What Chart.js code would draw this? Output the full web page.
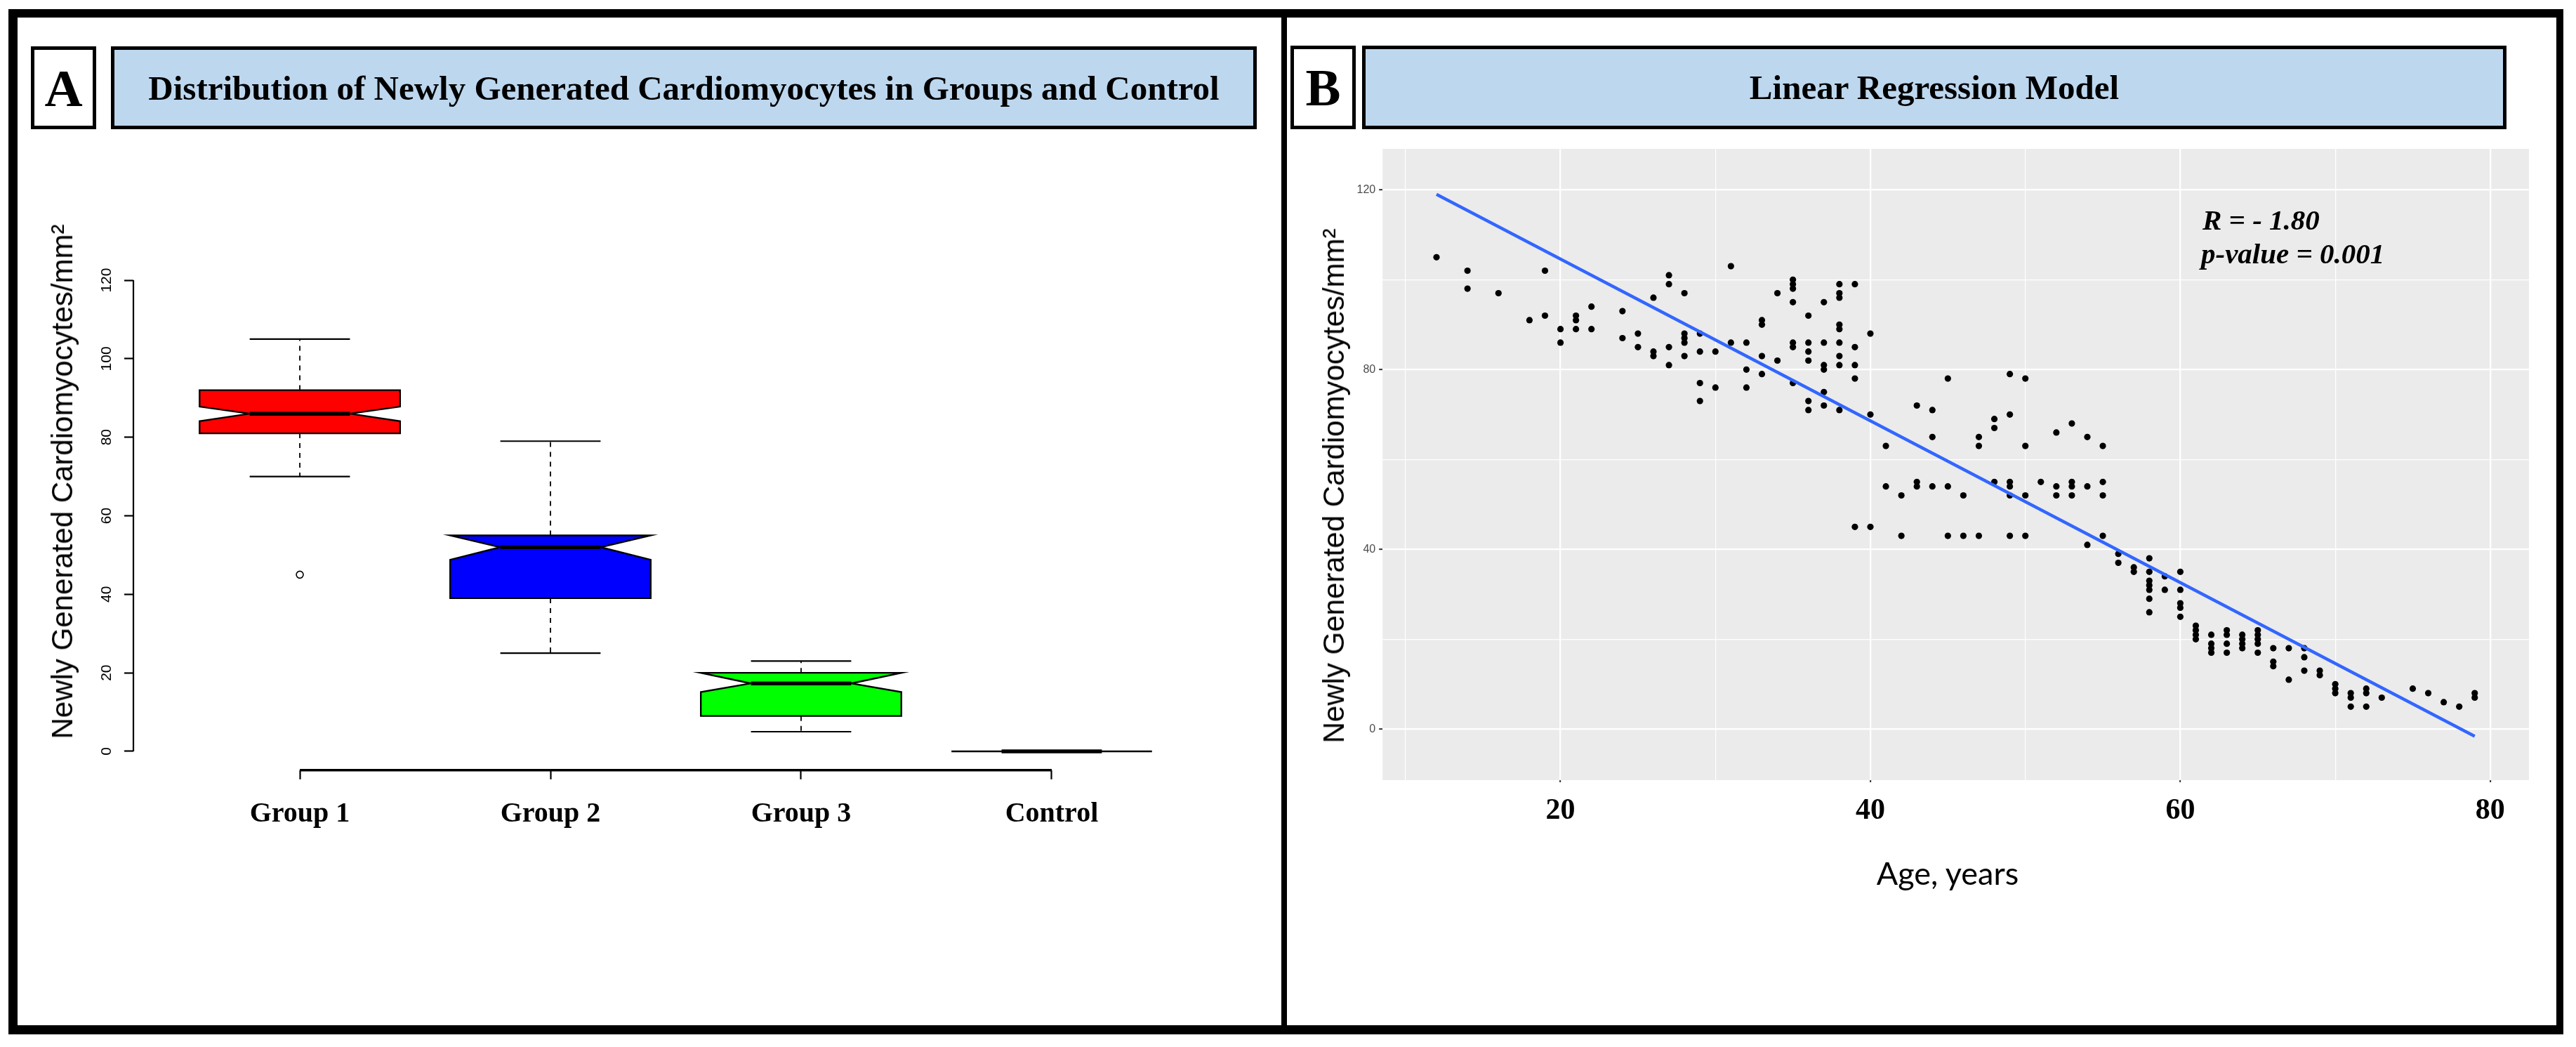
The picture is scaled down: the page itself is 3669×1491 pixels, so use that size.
<!DOCTYPE html>
<html>
<head>
<meta charset="utf-8">
<script src="https://cdn.jsdelivr.net/npm/chart.js@4.4.0/dist/chart.umd.min.js"></script>
<style>
html,body{margin:0;padding:0;background:#fff;}
#stage{position:relative;width:3669px;height:1491px;overflow:hidden;background:#fff;}
canvas{position:absolute;left:0;top:0;}
.box{position:absolute;box-sizing:border-box;border:5px solid #000;display:flex;align-items:center;justify-content:center;font-family:"Liberation Serif","Times New Roman",serif;font-weight:bold;line-height:1;white-space:nowrap;color:#000;z-index:5;}
.hdr{background:#BDD7EE;font-size:49px;}
.letter{background:#fff;font-size:75px;}
.rot{position:absolute;transform:translate(-50%,-50%) rotate(-90deg);font-family:"Liberation Sans",Arial,sans-serif;font-size:42px;line-height:1;white-space:nowrap;color:#000;z-index:5;}
.ann{position:absolute;font-family:"Liberation Serif","Times New Roman",serif;font-weight:bold;font-style:italic;font-size:41px;line-height:1;white-space:nowrap;color:#000;z-index:5;}
.xt{position:absolute;transform:translate(-50%,-50%);font-family:Lato,"Open Sans",sans-serif;font-size:45px;line-height:1;white-space:nowrap;color:#000;z-index:5;}
#frame{position:absolute;left:12px;top:13px;width:3639px;height:1460px;box-sizing:border-box;border-style:solid;border-color:#000;border-width:12px 10px 13px 13px;z-index:6;}
#divider{position:absolute;left:1825px;top:13px;width:8px;height:1460px;background:#000;z-index:6;}
</style>
</head>
<body>
<div id="stage">
  <canvas id="cA" width="3669" height="1491"></canvas>
  <canvas id="cB" width="3669" height="1491"></canvas>

  <div class="box letter" style="left:44px;top:66px;width:93px;height:118px;">A</div>
  <div class="box hdr" style="left:158px;top:66px;width:1632px;height:118px;">Distribution of Newly Generated Cardiomyocytes in Groups and Control</div>
  <div class="box letter" style="left:1838px;top:65px;width:93px;height:119px;">B</div>
  <div class="box hdr" style="left:1940px;top:65px;width:1630px;height:119px;">Linear Regression Model</div>

  <div class="rot" style="left:88.5px;top:686px;">Newly Generated Cardiomyocytes/mm²</div>
  <div class="rot" style="left:1900px;top:692px;">Newly Generated Cardiomyocytes/mm²</div>
  <div class="xt" style="left:2774px;top:1243px;">Age, years</div>

  <div class="ann" style="left:3137px;top:292.7px;">R = - 1.80</div>
  <div class="ann" style="left:3135px;top:340.7px;">p-value = 0.001</div>

  <div id="frame"></div>
  <div id="divider"></div>
</div>
<script>
// ---------- Panel A data (box plot) ----------
const groupLabels = ['Group 1', 'Group 2', 'Group 3', 'Control'];
const boxColors   = ['#FF0000', '#0000FF', '#00FF00', '#FFFFFF'];
const whiskerLow  = [70, 25, 5, 0];
const boxQ1       = [81, 39, 9, 0];
const notchLow    = [84.1, 48.8, 15.1, 0];
const boxMedian   = [86, 52, 17.3, 0];
const notchHigh   = [87.8, 55, 20, 0];
const boxQ3       = [92, 55, 20, 0];
const whiskerHigh = [105, 79, 23, 0];
const outlierGroup = [1];
const outlierValue = [45];
const yTicksA = [0, 20, 40, 60, 80, 100, 120];

// ---------- Panel B data (scatter + fit) ----------
const ageYears = [12,14,14,16,18,19,19,20,20,21,21,21,22,22,24,24,25,25,26,26,26,27,27,27,27,28,28,28,28,28,29,29,29,29,30,30,31,31,32,32,32,33,33,33,33,34,34,35,35,35,35,35,35,35,36,36,36,36,36,36,37,37,37,37,37,37,38,38,38,38,38,38,38,38,38,39,39,39,39,39,40,40,40,41,41,42,42,43,43,43,44,44,44,45,45,45,46,46,47,47,47,48,48,48,49,49,49,49,49,49,50,50,50,50,51,52,52,52,53,53,53,53,54,54,54,55,55,55,55,56,56,57,57,58,58,58,58,58,58,58,59,59,60,60,60,60,60,61,61,61,61,62,62,62,62,63,63,63,63,64,64,64,64,65,65,65,65,65,66,66,66,67,67,68,68,68,69,69,70,70,70,71,71,71,72,72,72,73,75,76,77,78,79,79];
const newCells = [105,102,98,97,91,102,92,89,86,92,91,89,94,89,93,87,88,85,96,84,83,101,99,85,81,97,88,87,86,83,88,84,77,73,84,76,103,86,86,80,76,91,90,83,79,97,82,100,99,98,95,86,85,77,92,86,84,82,73,71,95,86,81,80,75,72,99,97,96,90,89,86,83,81,71,99,85,81,78,45,88,70,45,63,54,52,43,72,55,54,71,65,54,78,54,43,52,43,65,63,43,69,67,55,79,70,55,54,52,43,78,63,52,43,55,66,54,52,68,55,54,52,65,54,41,63,55,52,43,39,37,36,35,38,35,33,32,31,29,26,34,31,35,31,28,27,25,23,22,21,20,21,19,18,17,22,21,19,17,21,20,19,18,22,21,20,19,17,18,15,14,18,11,18,16,13,13,12,10,9,8,8,7,5,9,8,5,7,9,8,6,5,8,7];
const fitAge   = [12, 79];
const fitCells = [119.0, -1.6];
const xTicksB = [10, 20, 30, 40, 50, 60, 70, 80];
const xMajorB = [20, 40, 60, 80];
const yTicksB = [0, 20, 40, 60, 80, 100, 120];
const yMajorB = [0, 40, 80, 120];

// ---------- Panel A: R-style notched box plot drawn through Chart.js scales ----------
const rBoxPlugin = {
  id: 'rBox',
  beforeDatasetsDraw(chart) {
    const {ctx, scales: {x, y}} = chart;
    const hw = x.getPixelForValue(1.4) - x.getPixelForValue(1);
    const py = v => y.getPixelForValue(v);
    groupLabels.forEach((g, i) => {
      const xc = x.getPixelForValue(i + 1);
      ctx.save();
      ctx.strokeStyle = '#000';
      ctx.lineWidth = 1.8;
      ctx.setLineDash([7, 7]);
      ctx.beginPath();
      ctx.moveTo(xc, py(boxQ3[i])); ctx.lineTo(xc, py(whiskerHigh[i]));
      ctx.moveTo(xc, py(boxQ1[i])); ctx.lineTo(xc, py(whiskerLow[i]));
      ctx.stroke();
      ctx.setLineDash([]);
      ctx.lineWidth = 2.2;
      ctx.beginPath();
      ctx.moveTo(xc - hw / 2, py(whiskerHigh[i])); ctx.lineTo(xc + hw / 2, py(whiskerHigh[i]));
      ctx.moveTo(xc - hw / 2, py(whiskerLow[i]));  ctx.lineTo(xc + hw / 2, py(whiskerLow[i]));
      ctx.stroke();
      ctx.beginPath();
      ctx.moveTo(xc - hw, py(boxQ1[i]));
      ctx.lineTo(xc - hw, py(notchLow[i]));
      ctx.lineTo(xc - hw / 2, py(boxMedian[i]));
      ctx.lineTo(xc - hw, py(notchHigh[i]));
      ctx.lineTo(xc - hw, py(boxQ3[i]));
      ctx.lineTo(xc + hw, py(boxQ3[i]));
      ctx.lineTo(xc + hw, py(notchHigh[i]));
      ctx.lineTo(xc + hw / 2, py(boxMedian[i]));
      ctx.lineTo(xc + hw, py(notchLow[i]));
      ctx.lineTo(xc + hw, py(boxQ1[i]));
      ctx.closePath();
      ctx.fillStyle = boxColors[i];
      ctx.fill();
      ctx.lineWidth = 2.4;
      ctx.stroke();
      ctx.lineWidth = 5.5;
      ctx.beginPath();
      ctx.moveTo(xc - hw / 2, py(boxMedian[i])); ctx.lineTo(xc + hw / 2, py(boxMedian[i]));
      ctx.stroke();
      ctx.restore();
    });
  },
  afterDraw(chart) {
    const {ctx, chartArea: a, scales: {x, y}} = chart;
    ctx.save();
    ctx.strokeStyle = '#000';
    ctx.lineWidth = 2.2;
    ctx.beginPath();
    ctx.moveTo(a.left, y.getPixelForValue(yTicksA[0]));
    ctx.lineTo(a.left, y.getPixelForValue(yTicksA[yTicksA.length - 1]));
    ctx.stroke();
    ctx.lineWidth = 3.5;
    ctx.beginPath();
    ctx.moveTo(x.getPixelForValue(1), a.bottom);
    ctx.lineTo(x.getPixelForValue(groupLabels.length), a.bottom);
    ctx.stroke();
    ctx.fillStyle = '#000';
    ctx.font = '21px "Liberation Sans", Arial, sans-serif';
    ctx.textAlign = 'center';
    ctx.textBaseline = 'middle';
    yTicksA.forEach(v => {
      ctx.save();
      ctx.translate(a.left - 38, y.getPixelForValue(v));
      ctx.rotate(-Math.PI / 2);
      ctx.fillText(String(v), 0, 0);
      ctx.restore();
    });
    ctx.restore();
  }
};

new Chart(document.getElementById('cA'), {
  type: 'scatter',
  data: {
    datasets: [{
      data: outlierGroup.map((g, i) => ({x: g, y: outlierValue[i]})),
      pointRadius: 5,
      pointBackgroundColor: 'rgba(255,255,255,0)',
      pointBorderColor: '#000',
      pointBorderWidth: 1.6
    }]
  },
  options: {
    responsive: false, animation: false, devicePixelRatio: 1,
    layout: {padding: {left: 0, top: 372.2, right: 1934, bottom: 0}},
    plugins: {legend: {display: false}, tooltip: {enabled: false}},
    scales: {
      x: {
        type: 'linear', min: 0.336, max: 4.664,
        afterBuildTicks: s => { s.ticks = groupLabels.map((g, i) => ({value: i + 1})); },
        afterFit: s => { s.height = 394.2; },
        grid: {drawOnChartArea: false, drawTicks: true, tickLength: 13, tickWidth: 2.2, tickColor: '#000'},
        border: {display: false},
        ticks: {
          autoSkip: false, maxRotation: 0, minRotation: 0, padding: 26, color: '#000',
          font: {family: '"Liberation Serif", "Times New Roman", serif', weight: 'bold', size: 40},
          callback: v => groupLabels[Math.round(v) - 1]
        }
      },
      y: {
        type: 'linear', min: -4.8, max: 124.8,
        afterBuildTicks: s => { s.ticks = yTicksA.map(v => ({value: v})); },
        afterFit: s => { s.width = 190; },
        grid: {drawOnChartArea: false, drawTicks: true, tickLength: 13, tickWidth: 2.2, tickColor: '#000'},
        border: {display: false},
        ticks: {display: false}
      }
    }
  },
  plugins: [rBoxPlugin]
});

// ---------- Panel B ----------
const ggBackground = {
  id: 'ggBackground',
  beforeDraw(chart) {
    const {ctx, chartArea: a} = chart;
    ctx.save();
    ctx.fillStyle = '#EBEBEB';
    ctx.fillRect(a.left, a.top, a.right - a.left, a.bottom - a.top);
    ctx.restore();
  }
};
const isMaj = (c, list) => !!(c && c.tick && list.includes(c.tick.value));

new Chart(document.getElementById('cB'), {
  type: 'scatter',
  data: {
    datasets: [
      {
        type: 'line',
        data: fitAge.map((a, i) => ({x: a, y: fitCells[i]})),
        borderColor: '#3366FF', borderWidth: 4.5, pointRadius: 0, fill: false, order: 0
      },
      {
        data: ageYears.map((a, i) => ({x: a, y: newCells[i]})),
        pointRadius: 4.6, pointBackgroundColor: '#000', pointBorderColor: '#000', pointBorderWidth: 0, order: 1
      }
    ]
  },
  options: {
    responsive: false, animation: false, devicePixelRatio: 1,
    layout: {padding: {left: 0, top: 212, right: 67, bottom: 0}},
    plugins: {legend: {display: false}, tooltip: {enabled: false}},
    scales: {
      x: {
        type: 'linear', min: 8.52, max: 82.5,
        afterBuildTicks: s => { s.ticks = xTicksB.map(v => ({value: v})); },
        afterFit: s => { s.height = 380; },
        grid: {
          color: '#FFFFFF',
          lineWidth: c => isMaj(c, xMajorB) ? 2.3 : 1.2,
          drawTicks: true, tickLength: 3, tickWidth: 2,
          tickColor: c => isMaj(c, xMajorB) ? '#333333' : 'rgba(0,0,0,0)'
        },
        border: {display: false},
        ticks: {
          autoSkip: false, maxRotation: 0, minRotation: 0, padding: 16, color: '#000',
          font: {family: '"Liberation Serif", "Times New Roman", serif', weight: 'bold', size: 42},
          callback: v => xMajorB.includes(v) ? String(v) : ''
        }
      },
      y: {
        type: 'linear', min: -11.36, max: 129.11,
        afterBuildTicks: s => { s.ticks = yTicksB.map(v => ({value: v})); },
        afterFit: s => { s.width = 1969.2; },
        grid: {
          color: '#FFFFFF',
          lineWidth: c => isMaj(c, yMajorB) ? 2.3 : 1.2,
          drawTicks: true, tickLength: 5, tickWidth: 2,
          tickColor: c => isMaj(c, yMajorB) ? '#333333' : 'rgba(0,0,0,0)'
        },
        border: {display: false},
        ticks: {
          autoSkip: false, padding: 5, color: '#4D4D4D',
          font: {family: '"Liberation Sans", Arial, sans-serif', size: 16},
          callback: v => yMajorB.includes(v) ? String(v) : ''
        }
      }
    }
  },
  plugins: [ggBackground]
});
</script>
</body>
</html>
